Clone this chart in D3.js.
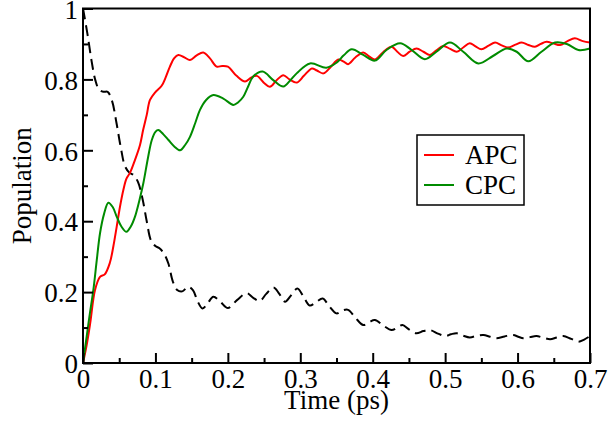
<!DOCTYPE html>
<html>
<head>
<meta charset="utf-8">
<script src="https://cdn.jsdelivr.net/npm/d3@7"></script>
<style>
  body { margin: 0; background: #fff; }
  text { font-family: "Liberation Serif", "Times New Roman", serif; }
</style>
</head>
<body>
<svg id="chart" width="609" height="428"></svg>
<script>
// Population vs time, [time (ps), population]
const donorPop = [
  [0, 1.0], [0.006, 0.93], [0.012, 0.85], [0.017, 0.798], [0.022, 0.772], [0.028, 0.765],
  [0.034, 0.765], [0.04, 0.74], [0.046, 0.68], [0.052, 0.61], [0.058, 0.555], [0.064, 0.537],
  [0.07, 0.53], [0.076, 0.51], [0.082, 0.465], [0.088, 0.4], [0.094, 0.345], [0.1, 0.33],
  [0.106, 0.323], [0.112, 0.308], [0.118, 0.28], [0.124, 0.23], [0.13, 0.206], [0.137, 0.202],
  [0.145, 0.215], [0.152, 0.205], [0.158, 0.175], [0.165, 0.154], [0.172, 0.168], [0.18, 0.187],
  [0.19, 0.172], [0.2, 0.155], [0.213, 0.178], [0.226, 0.197], [0.235, 0.184], [0.244, 0.175],
  [0.253, 0.195], [0.263, 0.213], [0.271, 0.195], [0.279, 0.173], [0.287, 0.19], [0.296, 0.21],
  [0.305, 0.185], [0.313, 0.162], [0.322, 0.172], [0.331, 0.182], [0.34, 0.16], [0.35, 0.14],
  [0.358, 0.148], [0.366, 0.15], [0.376, 0.128], [0.387, 0.107], [0.395, 0.115], [0.403, 0.121],
  [0.415, 0.105], [0.426, 0.093], [0.434, 0.1], [0.441, 0.107], [0.45, 0.095], [0.46, 0.084],
  [0.47, 0.09], [0.479, 0.093], [0.49, 0.083], [0.5, 0.076], [0.508, 0.081], [0.516, 0.084],
  [0.525, 0.077], [0.534, 0.072], [0.544, 0.077], [0.553, 0.079], [0.562, 0.074], [0.571, 0.07],
  [0.582, 0.075], [0.594, 0.079], [0.601, 0.074], [0.608, 0.07], [0.617, 0.073], [0.626, 0.076],
  [0.636, 0.071], [0.645, 0.067], [0.654, 0.072], [0.663, 0.076], [0.674, 0.068], [0.684, 0.06],
  [0.692, 0.066], [0.7, 0.076]
];

const apcPop = [
  [0, 0], [0.005, 0.05], [0.01, 0.113], [0.0166, 0.206], [0.0235, 0.243], [0.03, 0.25],
  [0.037, 0.282], [0.042, 0.33], [0.0465, 0.384], [0.051, 0.44], [0.0557, 0.488], [0.06, 0.52],
  [0.065, 0.537], [0.0718, 0.573], [0.0787, 0.615], [0.083, 0.657], [0.088, 0.7], [0.0925, 0.742],
  [0.0994, 0.763], [0.1086, 0.782], [0.114, 0.805], [0.12, 0.836], [0.126, 0.86], [0.1316, 0.869],
  [0.14, 0.862], [0.1477, 0.855], [0.157, 0.868], [0.166, 0.876], [0.175, 0.86], [0.1846, 0.836],
  [0.192, 0.838], [0.2, 0.836], [0.212, 0.81], [0.2237, 0.794], [0.232, 0.805], [0.24, 0.81],
  [0.25, 0.79], [0.258, 0.779], [0.267, 0.797], [0.2766, 0.812], [0.285, 0.8], [0.295, 0.791],
  [0.305, 0.81], [0.316, 0.831], [0.323, 0.825], [0.332, 0.817], [0.342, 0.835], [0.3525, 0.856],
  [0.36, 0.85], [0.366, 0.843], [0.376, 0.862], [0.387, 0.876], [0.395, 0.865], [0.403, 0.856],
  [0.414, 0.876], [0.426, 0.892], [0.434, 0.878], [0.442, 0.866], [0.451, 0.878], [0.4606, 0.887],
  [0.47, 0.878], [0.479, 0.869], [0.488, 0.882], [0.4975, 0.894], [0.507, 0.886], [0.516, 0.878],
  [0.525, 0.89], [0.534, 0.902], [0.542, 0.893], [0.55, 0.885], [0.56, 0.895], [0.569, 0.904],
  [0.578, 0.896], [0.587, 0.89], [0.597, 0.898], [0.6057, 0.904], [0.615, 0.897], [0.624, 0.892],
  [0.632, 0.9], [0.64, 0.906], [0.65, 0.901], [0.6586, 0.897], [0.669, 0.908], [0.679, 0.916],
  [0.69, 0.908], [0.7, 0.904]
];

const cpcPop = [
  [0, 0], [0.005, 0.074], [0.0095, 0.14], [0.0143, 0.206], [0.019, 0.29], [0.0235, 0.366],
  [0.029, 0.42], [0.035, 0.452], [0.041, 0.44], [0.0465, 0.413], [0.053, 0.385], [0.06, 0.37],
  [0.066, 0.385], [0.0718, 0.413], [0.078, 0.46], [0.0833, 0.507], [0.09, 0.582], [0.095, 0.629],
  [0.1, 0.652], [0.104, 0.657], [0.111, 0.645], [0.118, 0.629], [0.126, 0.611], [0.134, 0.6],
  [0.141, 0.615], [0.1477, 0.638], [0.155, 0.677], [0.1615, 0.714], [0.17, 0.742], [0.18, 0.756],
  [0.1937, 0.746], [0.2075, 0.728], [0.214, 0.735], [0.2213, 0.751], [0.228, 0.78], [0.235, 0.808],
  [0.248, 0.822], [0.2627, 0.798], [0.2766, 0.78], [0.286, 0.797], [0.295, 0.817], [0.3134, 0.845],
  [0.336, 0.833], [0.35, 0.847], [0.36, 0.868], [0.371, 0.885], [0.387, 0.869], [0.403, 0.853],
  [0.419, 0.883], [0.438, 0.902], [0.4537, 0.883], [0.472, 0.857], [0.488, 0.878], [0.5067, 0.904],
  [0.525, 0.878], [0.5458, 0.845], [0.566, 0.866], [0.585, 0.887], [0.5988, 0.878], [0.6148, 0.851],
  [0.633, 0.878], [0.6517, 0.904], [0.668, 0.9], [0.684, 0.883], [0.7, 0.887]
];

const xTicks = [0, 0.1, 0.2, 0.3, 0.4, 0.5, 0.6, 0.7];
const xMinorTicks = [0.05, 0.15, 0.25, 0.35, 0.45, 0.55, 0.65];
const yTicks = [0, 0.2, 0.4, 0.6, 0.8, 1];
const yMinorTicks = [0.1, 0.3, 0.5, 0.7, 0.9];
const legendNames = ["APC", "CPC"];
const legendColors = ["#ff0000", "#008b00"];

const svg = d3.select("#chart");
const plotLeft = 83, plotRight = 590, plotTop = 8.5, plotBottom = 363;

const x = d3.scaleLinear().domain([0, 0.7]).range([plotLeft, plotRight]);
const y = d3.scaleLinear().domain([0, 1]).range([plotBottom, plotTop]);

const line = d3.line()
  .x(d => x(d[0]))
  .y(d => y(d[1]))
  .curve(d3.curveCatmullRom);

// Curves
svg.append("path")
  .attr("d", line(donorPop))
  .attr("fill", "none")
  .attr("stroke", "#000")
  .attr("stroke-width", 2)
  .attr("stroke-dasharray", "11,6");

svg.append("path")
  .attr("d", line(apcPop))
  .attr("fill", "none")
  .attr("stroke", legendColors[0])
  .attr("stroke-width", 2);

svg.append("path")
  .attr("d", line(cpcPop))
  .attr("fill", "none")
  .attr("stroke", legendColors[1])
  .attr("stroke-width", 2);

// Ticks pointing inward
const xAxis = svg.append("g").attr("transform", `translate(0,${plotBottom})`)
  .call(d3.axisBottom(x).tickValues(xTicks).tickSize(-10).tickFormat(d => d === 0 ? "0" : d3.format(".1f")(d)));
xAxis.select(".domain").remove();
xAxis.selectAll("line").attr("stroke-width", 2);
xAxis.selectAll("text")
  .attr("y", 25).attr("dy", null)
  .attr("font-size", 27).attr("fill", "#000")
  .style("font-family", "Liberation Serif, serif");

const xMinor = svg.append("g").attr("transform", `translate(0,${plotBottom})`)
  .call(d3.axisBottom(x).tickValues(xMinorTicks).tickSize(-5).tickFormat(""));
xMinor.select(".domain").remove();
xMinor.selectAll("line").attr("stroke-width", 2);

const yAxis = svg.append("g").attr("transform", `translate(${plotLeft},0)`)
  .call(d3.axisLeft(y).tickValues(yTicks).tickSize(-10).tickFormat(d => d === 0 || d === 1 ? String(d) : d3.format(".1f")(d)));
yAxis.select(".domain").remove();
yAxis.selectAll("line").attr("stroke-width", 2);
yAxis.selectAll("text")
  .attr("x", -5).attr("dy", "0.36em")
  .attr("font-size", 27).attr("fill", "#000")
  .style("font-family", "Liberation Serif, serif");

const yMinor = svg.append("g").attr("transform", `translate(${plotLeft},0)`)
  .call(d3.axisLeft(y).tickValues(yMinorTicks).tickSize(-5).tickFormat(""));
yMinor.select(".domain").remove();
yMinor.selectAll("line").attr("stroke-width", 2);

// Frame
svg.append("rect")
  .attr("x", plotLeft).attr("y", plotTop)
  .attr("width", plotRight - plotLeft).attr("height", plotBottom - plotTop)
  .attr("fill", "none").attr("stroke", "#000").attr("stroke-width", 2);

// Axis titles
svg.append("text")
  .attr("x", (plotLeft + plotRight) / 2).attr("y", 409)
  .attr("text-anchor", "middle").attr("font-size", 27)
  .text("Time (ps)");

svg.append("text")
  .attr("transform", `translate(31,${(plotTop + plotBottom) / 2}) rotate(-90)`)
  .attr("text-anchor", "middle").attr("font-size", 27)
  .text("Population");

// Legend
const legend = svg.append("g");
legend.append("rect")
  .attr("x", 417).attr("y", 135).attr("width", 107).attr("height", 70)
  .attr("fill", "#fff").attr("stroke", "#000").attr("stroke-width", 1.5);

legendNames.forEach((name, i) => {
  const ly = 155 + i * 30;
  legend.append("line")
    .attr("x1", 424).attr("x2", 454).attr("y1", ly).attr("y2", ly)
    .attr("stroke", legendColors[i]).attr("stroke-width", 2);
  legend.append("text")
    .attr("x", 465).attr("y", ly + 9)
    .attr("font-size", 27)
    .text(name);
});
</script>
</body>
</html>
